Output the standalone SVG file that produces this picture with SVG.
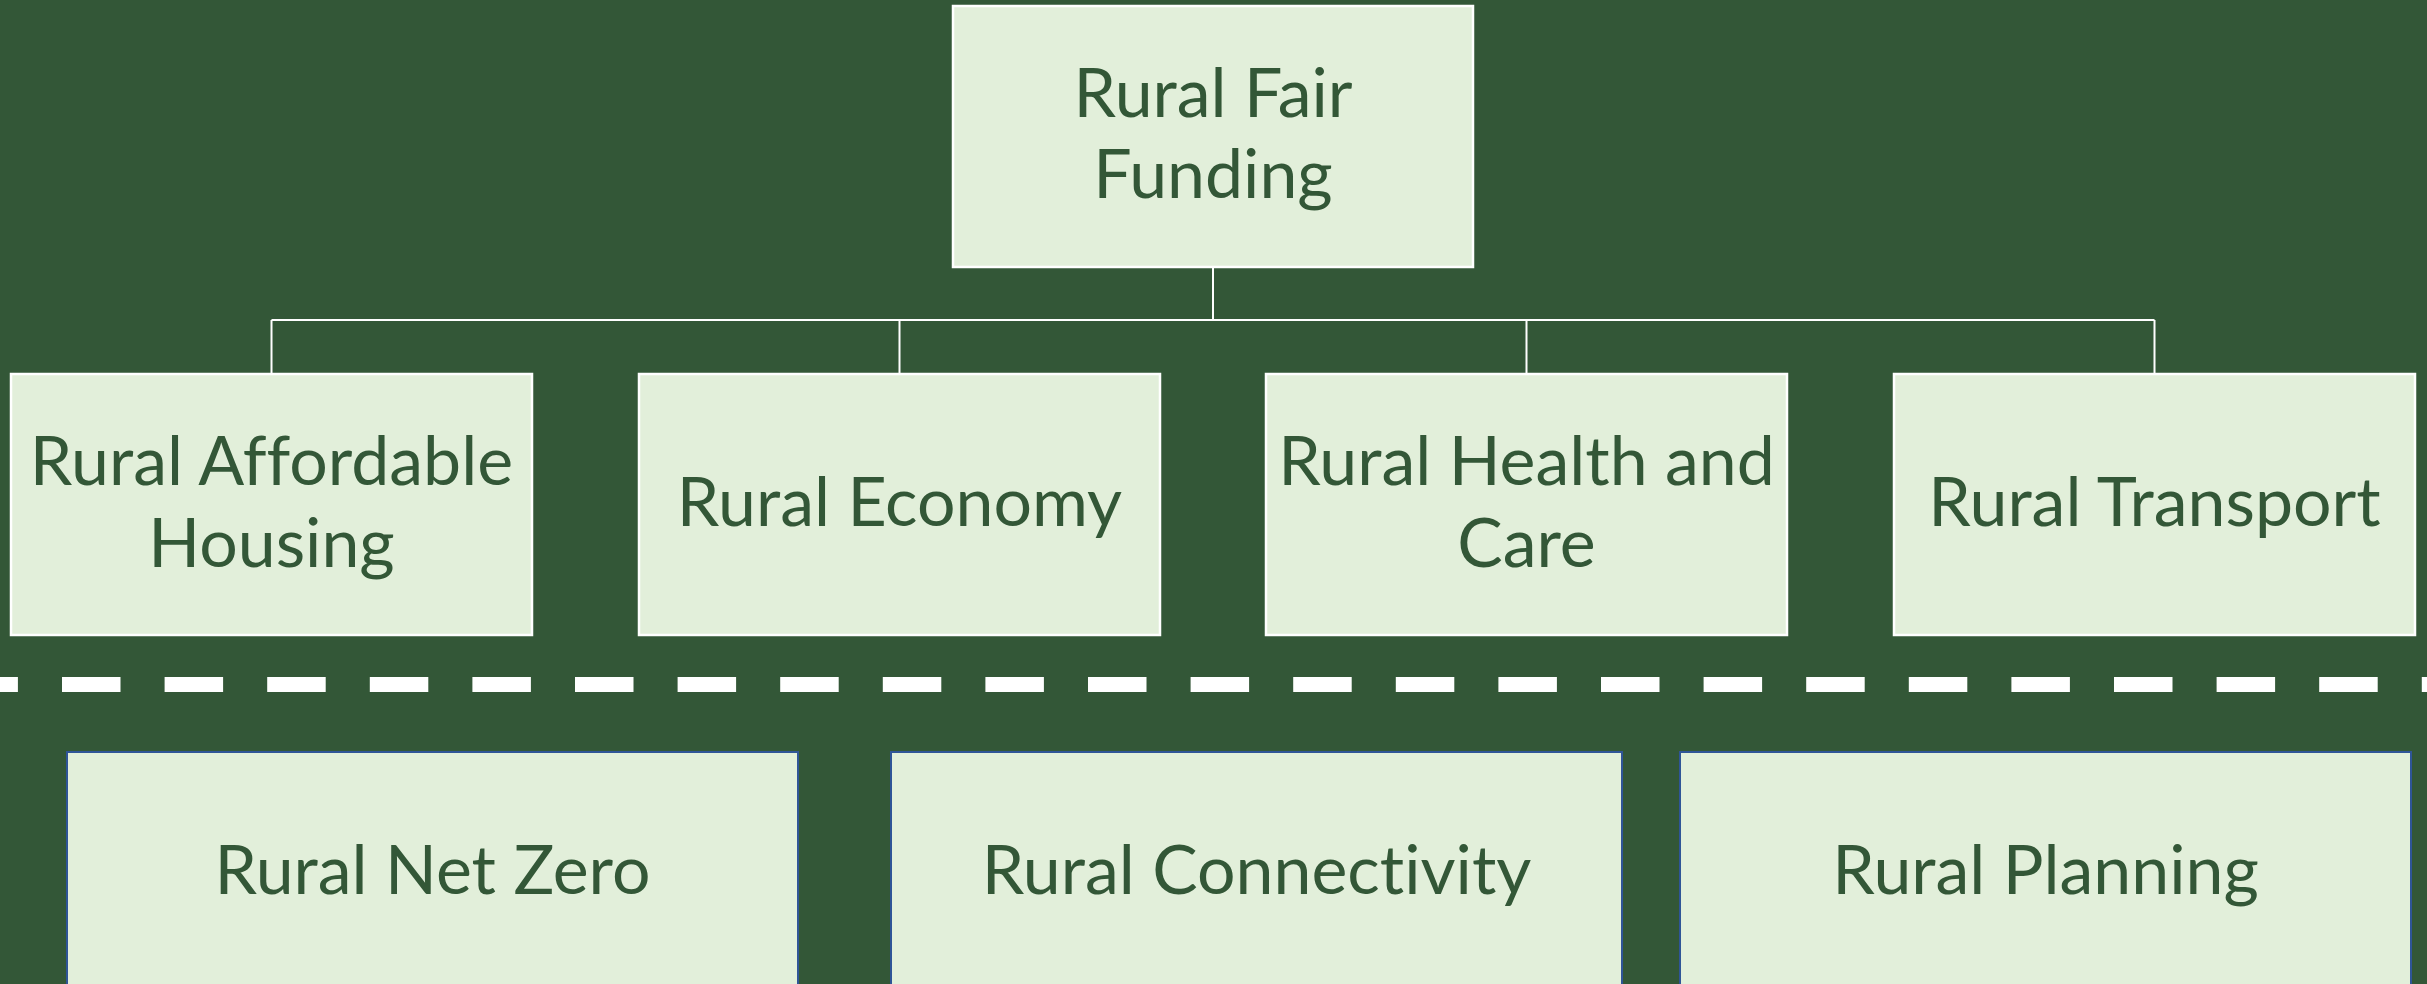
<svg xmlns="http://www.w3.org/2000/svg" width="2427" height="984" viewBox="0 0 2427 984">
<style>
.bg{fill:#335737}
.top{fill:#E2EFDA;stroke:#FFFFFF;stroke-width:2.5}
.bot{fill:#E2EFDA;stroke:#2F5597;stroke-width:2}
.t{font-family:Lato,"Liberation Sans",sans-serif;font-size:68px;fill:#335737;text-anchor:middle;font-variant-ligatures:none}
.conn{stroke:#FFFFFF;stroke-width:2;fill:none}
</style>
<rect class="bg" x="0" y="0" width="2427" height="984"/>
<g id="connectors">
<path class="conn" d="M1213 267 V320 M271.5 320 H2154.5 M271.5 320 V374 M899.5 320 V374 M1526.5 320 V374 M2154.5 320 V374"/>
<line x1="0" y1="684.5" x2="2427" y2="684.5" stroke="#FFFFFF" stroke-width="15" stroke-dasharray="58.5 44.1" stroke-dashoffset="40.6"/>
</g>
<g id="rural-fair-funding">
<rect class="top" x="953" y="6" width="520" height="261"/>
<text class="t" x="1213" y="117">Rural Fair</text>
<text class="t" x="1213" y="198">Funding</text>
</g>
<g id="rural-affordable-housing">
<rect class="top" x="11" y="374" width="521" height="261"/>
<text class="t" x="271.5" y="485">Rural Affordable</text>
<text class="t" x="271.5" y="567">Housing</text>
</g>
<g id="rural-economy">
<rect class="top" x="639" y="374" width="521" height="261"/>
<text class="t" x="899.5" y="526">Rural Economy</text>
</g>
<g id="rural-health-and-care">
<rect class="top" x="1266" y="374" width="521" height="261"/>
<text class="t" x="1526.5" y="485">Rural Health and</text>
<text class="t" x="1526.5" y="567">Care</text>
</g>
<g id="rural-transport">
<rect class="top" x="1894" y="374" width="521" height="261"/>
<text class="t" x="2154.5" y="526">Rural Transport</text>
</g>
<g id="rural-net-zero">
<rect class="bot" x="67" y="752" width="731" height="260"/>
<text class="t" x="432.5" y="894">Rural Net Zero</text>
</g>
<g id="rural-connectivity">
<rect class="bot" x="891" y="752" width="731" height="260"/>
<text class="t" x="1256.5" y="894">Rural Connectivity</text>
</g>
<g id="rural-planning">
<rect class="bot" x="1680" y="752" width="731" height="260"/>
<text class="t" x="2045.5" y="894">Rural Planning</text>
</g>
</svg>
